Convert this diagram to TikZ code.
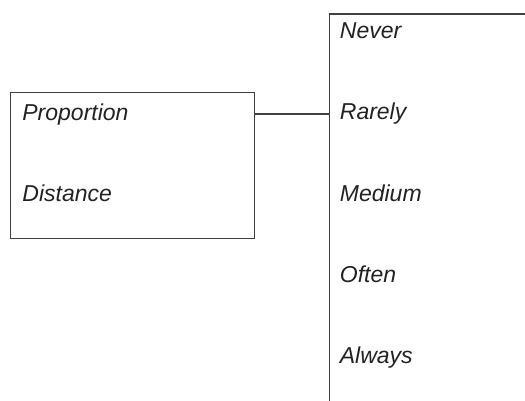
\documentclass[tikz,border=0pt]{standalone}
\usepackage{fontspec}
\setmainfont{Liberation Sans}
\usetikzlibrary{positioning}
\definecolor{edgegray}{HTML}{404040}
\definecolor{inkgray}{HTML}{222222}

\begin{document}
\begin{tikzpicture}[
    node distance=29.75pt,
    frame/.style={rectangle, draw=edgegray, line width=0.7pt, inner sep=0pt, anchor=north west},
    label/.style={inner sep=0pt, text height=8pt, text depth=2.5pt, text width=60pt, align=left, anchor=north west, text=inkgray, font=\fontsize{11.5}{13.8}\selectfont\itshape},
    link/.style={draw=edgegray, line width=0.7pt}
]
\clip (0,0) rectangle (262.5pt,-200.5pt);
\node [frame, minimum width=122pt, minimum height=73pt] (lbox) at (5pt,-46pt) {};
\node [frame, minimum width=130pt, minimum height=230pt] (rbox) at (164.5pt,-6.75pt) {};
\node [label] (proportion) at (11pt,-52pt) {Proportion};
\node [label, below=of proportion] (distance) {Distance};
\node [label] (never) at (169.75pt,-11pt) {Never};
\node [label, below=of never] (rarely) {Rarely};
\node [label, below=of rarely] (medium) {Medium};
\node [label, below=of medium] (often) {Often};
\node [label, below=of often] (always) {Always};
\path [link] (lbox.east |- rarely.west) -- (rbox.west |- rarely.west);
\end{tikzpicture}
\end{document}
